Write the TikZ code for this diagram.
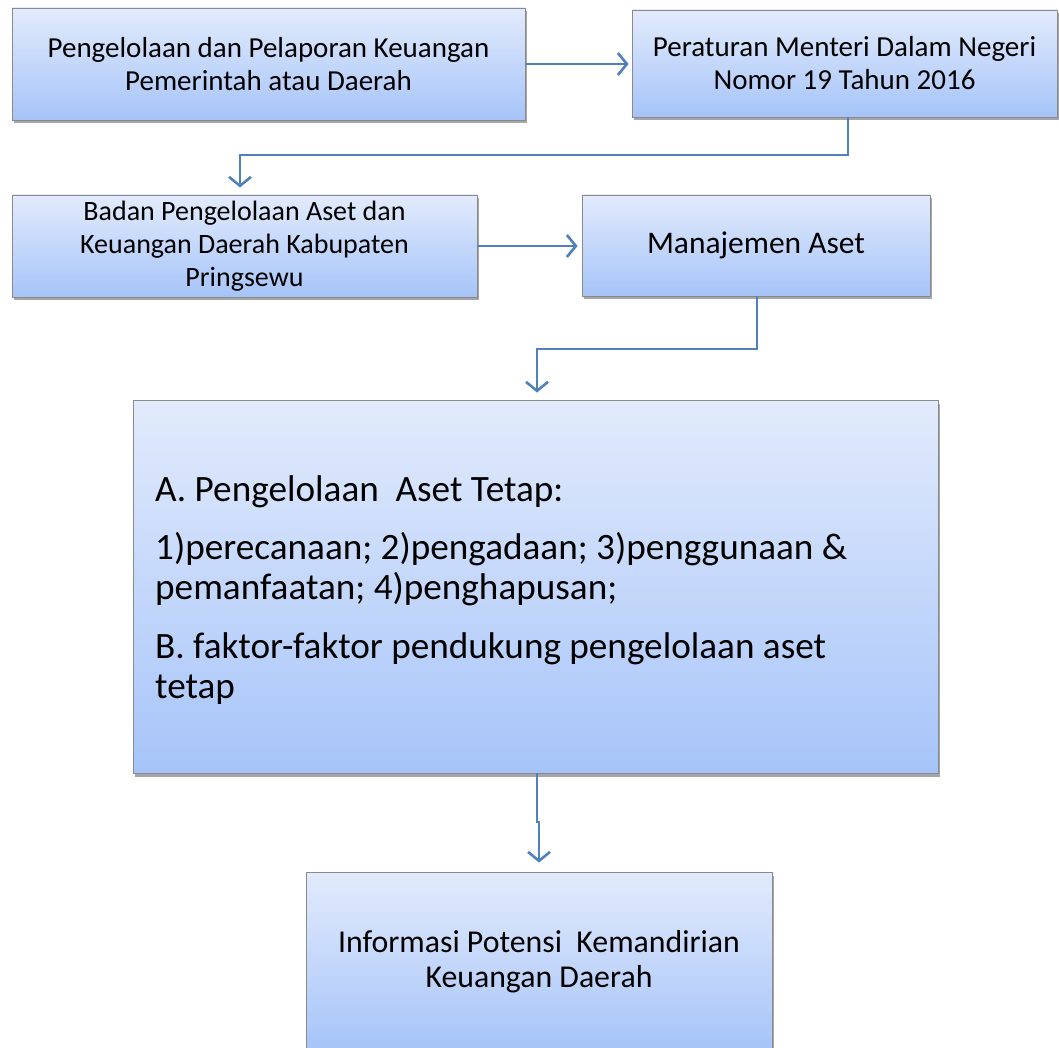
\documentclass[tikz,border=0pt]{standalone}
\usepackage{fontspec}
\setmainfont{Carlito}
\usetikzlibrary{arrows.meta,shadows,calc}
\definecolor{boxtop}{HTML}{E2EBFC}
\definecolor{boxbot}{HTML}{A6C4F9}
\definecolor{boxline}{HTML}{8A8A8A}
\definecolor{arrowc}{HTML}{4F81BD}
\begin{document}
\begin{tikzpicture}[x=1pt,y=-1pt,
  flowbox/.style={draw=boxline, line width=0.9pt, top color=boxtop, bottom color=boxbot,
    inner sep=0pt, align=center, text=black,
    drop shadow={shadow xshift=1.5pt, shadow yshift=-3.5pt, fill=black, opacity=0.35}},
  conn/.style={draw=arrowc, line width=2.6pt,
    -{Straight Barb[length=9pt,width=22pt,line width=2.6pt]}, shorten >=7pt},
  midfont/.style={font=\fontsize{29}{33}\selectfont},
  bigline/.style={anchor=base west, inner sep=0pt, font=\fontsize{37.2}{40}\selectfont}]
\useasboundingbox (0,0) rectangle (1059,1048);
\fill[white] (0,0) rectangle (1059,1048);

\node[flowbox, midfont, minimum width=513pt, minimum height=112pt] (box1) at (268.5,64)
  {Pengelolaan dan Pelaporan Keuangan\\Pemerintah atau Daerah};
\node[flowbox, midfont, minimum width=425pt, minimum height=107pt] (box2) at (844.5,63.5)
  {Peraturan Menteri Dalam Negeri\\Nomor 19 Tahun 2016};
\node[flowbox, font=\fontsize{28}{33}\selectfont, minimum width=465pt, minimum height=102pt] (box3) at (244.5,246)
  {Badan Pengelolaan Aset dan\\Keuangan Daerah Kabupaten\\Pringsewu};
\node[flowbox, font=\fontsize{31.5}{35}\selectfont, minimum width=348pt, minimum height=101pt] (box4) at (756,245.5)
  {Manajemen Aset};
\node[flowbox, minimum width=805pt, minimum height=373pt] (box5) at (535.5,586.5) {};
\node[flowbox, font=\fontsize{31.8}{35}\selectfont, minimum width=466pt, minimum height=180pt] (box6) at (539,962)
  {Informasi Potensi\ \ Kemandirian\\Keuangan Daerah};

\node[bigline] (t1) at (155,501) {A. Pengelolaan\ \ Aset Tetap:};
\node[bigline] (t2) at (155,559) {1)perecanaan; 2)pengadaan; 3)penggunaan \&};
\node[bigline] (t3) at (155,599) {pemanfaatan; 4)penghapusan;};
\node[bigline] (t4) at (155,658) {B. faktor-faktor pendukung pengelolaan aset};
\node[bigline] (t5) at (155,698) {tetap};

\draw[conn, shorten >=3pt] (box1.east) -- (box1.east -| box2.west);
\coordinate (s2) at ([xshift=3.5pt]box2.south);
\coordinate (e2) at ([xshift=-4.5pt]box3.north);
\draw[conn] (s2) -- (s2 |- 0,155) -- (e2 |- 0,155) -- (e2);
\draw[conn, shorten >=4pt] (box3.east) -- (box3.east -| box4.west);
\coordinate (s4) at ([xshift=1pt]box4.south);
\coordinate (e4) at ([xshift=1.5pt]box5.north);
\draw[conn] (s4) -- (s4 |- 0,349) -- (e4 |- 0,349) -- (e4);
\coordinate (s5) at ([xshift=1.5pt]box5.south);
\draw[conn, shorten >=9pt] (s5) -- (s5 |- 0,822) -- (box6.north |- 0,822) -- (box6.north);
\end{tikzpicture}
\end{document}
